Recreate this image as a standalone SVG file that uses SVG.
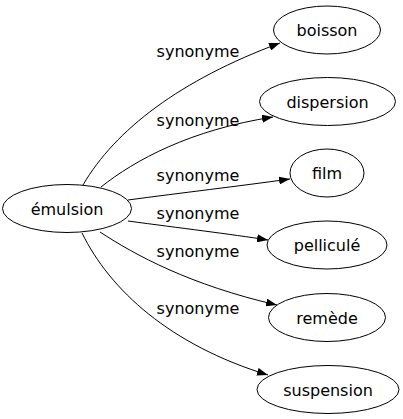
<svg xmlns="http://www.w3.org/2000/svg" width="403" height="419" viewBox="0 0 403 419">
<style>
.node ellipse{fill:#fff;stroke:#000;stroke-width:1}
text{font-family:"DejaVu Sans",sans-serif;font-size:16px;fill:#000;text-anchor:middle}
.edges path{fill:none;stroke:#000;stroke-width:1}
</style>
<defs>
<marker id="arr" viewBox="0 0 11 8" refX="11" refY="4" markerWidth="11" markerHeight="8" markerUnits="userSpaceOnUse" orient="auto">
<path d="M0,0 L11,4 L0,8 z" fill="#000"/>
</marker>
</defs>
<rect width="403" height="419" fill="#fff"/>
<g class="edges">
<path d="M83,185 C115,130 180,80 280,43" marker-end="url(#arr)"/>
<path d="M101,187 C135,160 190,130 273,117" marker-end="url(#arr)"/>
<path d="M128,200 C180,193 240,186 290,179" marker-end="url(#arr)"/>
<path d="M128,221 C180,228 230,234 268,240" marker-end="url(#arr)"/>
<path d="M100,232 C135,255 190,285 277,305" marker-end="url(#arr)"/>
<path d="M82,233 C110,290 170,345 268,375" marker-end="url(#arr)"/>
<text x="198" y="57">synonyme</text>
<text x="198" y="126">synonyme</text>
<text x="198" y="181">synonyme</text>
<text x="198" y="219">synonyme</text>
<text x="198" y="257">synonyme</text>
<text x="198" y="314">synonyme</text>
</g>
<g id="emulsion" class="node"><ellipse cx="67" cy="208.5" rx="64.5" ry="24"/><text x="67" y="214.5">émulsion</text></g>
<g id="boisson" class="node"><ellipse cx="327" cy="30" rx="53.5" ry="24"/><text x="327" y="36">boisson</text></g>
<g id="dispersion" class="node"><ellipse cx="327.5" cy="101.5" rx="68" ry="24"/><text x="327.5" y="107.5">dispersion</text></g>
<g id="film" class="node"><ellipse cx="327" cy="173" rx="37" ry="24"/><text x="327" y="179">film</text></g>
<g id="pellicule" class="node"><ellipse cx="327" cy="245" rx="60" ry="24"/><text x="327" y="251">pelliculé</text></g>
<g id="remede" class="node"><ellipse cx="327" cy="317.5" rx="58.5" ry="24"/><text x="327" y="323.5">remède</text></g>
<g id="suspension" class="node"><ellipse cx="328" cy="389.5" rx="71" ry="24"/><text x="328" y="395.5">suspension</text></g>
</svg>
